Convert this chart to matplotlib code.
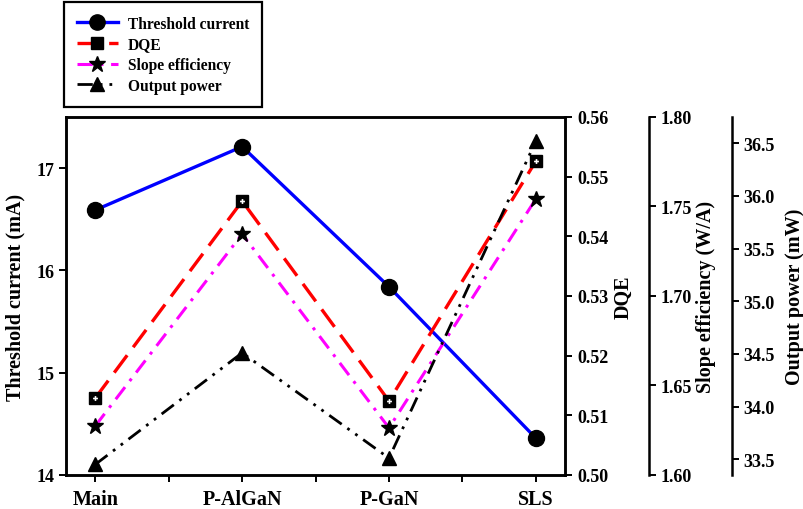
"""Threshold current, DQE, slope efficiency and output power for the four structures."""
import matplotlib
matplotlib.use("Agg")
import matplotlib.pyplot as plt
from matplotlib.lines import Line2D
from matplotlib.ticker import FixedLocator

plt.rcParams["font.family"] = ["Liberation Serif", "DejaVu Serif"]
plt.rcParams["font.weight"] = "bold"

STRUCTURES = ["Main", "P-AlGaN", "P-GaN", "SLS"]
THRESHOLD_MA = [16.59, 17.21, 15.84, 14.36]
DQE = [0.5129, 0.5459, 0.5124, 0.5526]
SLOPE_WA = [1.6274, 1.7346, 1.6263, 1.7542]
OUTPUT_MW = [33.45, 34.51, 33.51, 36.52]

DQE_TICKS = [0.50, 0.51, 0.52, 0.53, 0.54, 0.55, 0.56]
SLOPE_TICKS = [1.60, 1.65, 1.70, 1.75, 1.80]
POWER_TICKS = [33.5, 34.0, 34.5, 35.0, 35.5, 36.0, 36.5]

x = list(range(len(STRUCTURES)))

fig = plt.figure(figsize=(8.04, 5.10), dpi=100)
ax = fig.add_axes([0.082, 0.0667, 0.621, 0.702])
ax2 = ax.twinx()
ax3 = ax.twinx()
ax4 = ax.twinx()
ax3.spines["right"].set_position(("axes", 1.168))
ax4.spines["right"].set_position(("axes", 1.334))

for a in (ax, ax2, ax3, ax4):
    for s in a.spines.values():
        s.set_linewidth(1.8)
    a.tick_params(width=1.4, length=5, labelsize=13)
for a in (ax3, ax4):
    for side in ("left", "top", "bottom"):
        a.spines[side].set_visible(False)

ax.plot(x, THRESHOLD_MA, color="blue", lw=2.4, zorder=3)
ax.plot(x, THRESHOLD_MA, "o", color="black", ms=11.5, zorder=4)

ax2.plot(x, DQE, color="red", lw=2.4, ls=(0, (6.5, 3)), zorder=3)
ax2.plot(x, DQE, "s", color="black", ms=8.5, zorder=4)
ax2.plot(x, DQE, "P", color="white", ms=3.5, mew=0, zorder=5)

ax3.plot(x, SLOPE_WA, color="magenta", lw=2.2, ls=(0, (5, 2.5, 1, 2.5)), zorder=3)
ax3.plot(x, SLOPE_WA, "*", color="black", ms=12, zorder=4)

ax4.plot(x, OUTPUT_MW, color="black", lw=2.0, ls=(0, (5.5, 2.5, 1, 2.5, 1, 2.5)), zorder=3)
ax4.plot(x, OUTPUT_MW, "^", color="black", ms=10.5, zorder=4)

ax.set_xlim(-0.2, 3.2)
ax.set_xticks(x)
ax.set_xticklabels(STRUCTURES, fontsize=14.5, fontweight="bold")
ax.xaxis.set_minor_locator(FixedLocator([0.5, 1.5, 2.5]))
ax.tick_params(axis="x", which="minor", width=1.4, length=5)
ax.tick_params(axis="x", pad=5)

ax.set_ylim(14, 17.5)
ax.set_yticks([14, 15, 16, 17])
ax.set_ylabel("Threshold current (mA)", fontsize=14.5, fontweight="bold", labelpad=8)

ax2.set_ylim(0.50, 0.56)
ax2.set_yticks(DQE_TICKS)
ax2.set_yticklabels([f"{v:.2f}" for v in DQE_TICKS])
ax2.set_ylabel("DQE", fontsize=14.5, fontweight="bold", labelpad=4)

ax3.set_ylim(1.60, 1.80)
ax3.set_yticks(SLOPE_TICKS)
ax3.set_yticklabels([f"{v:.2f}" for v in SLOPE_TICKS])
ax3.set_ylabel("Slope efficiency (W/A)", fontsize=14.5, fontweight="bold", labelpad=3)

ax4.set_ylim(33.35, 36.75)
ax4.set_yticks(POWER_TICKS)
ax4.set_yticklabels([f"{v:.1f}" for v in POWER_TICKS])
ax4.set_ylabel("Output power (mW)", fontsize=14.5, fontweight="bold", labelpad=7)

handles = [
    Line2D([], [], color="blue", lw=2.4, marker="o", mfc="black", mec="black", ms=11),
    Line2D([], [], color="red", lw=2.4, ls=(0, (6.5, 3)), marker="s", mfc="black", mec="black", ms=8),
    Line2D([], [], color="magenta", lw=2.2, ls=(0, (5, 2.5, 1, 2.5)), marker="*",
           mfc="black", mec="black", ms=12),
    Line2D([], [], color="black", lw=2.0, ls=(0, (5.5, 2.5, 1, 2.5, 1, 2.5)), marker="^",
           mfc="black", mec="black", ms=10),
]
labels = ["Threshold current", "DQE", "Slope efficiency", "Output power"]
leg = ax.legend(handles, labels, loc="lower left", bbox_to_anchor=(-0.004, 1.028),
                borderaxespad=0, fancybox=False, edgecolor="black", framealpha=1,
                prop={"size": 11.2, "weight": "bold"}, handlelength=2.6,
                labelspacing=0.3, borderpad=0.85, handletextpad=0.65)
leg.get_frame().set_linewidth(1.6)

fig.savefig("out.png", dpi=100)
